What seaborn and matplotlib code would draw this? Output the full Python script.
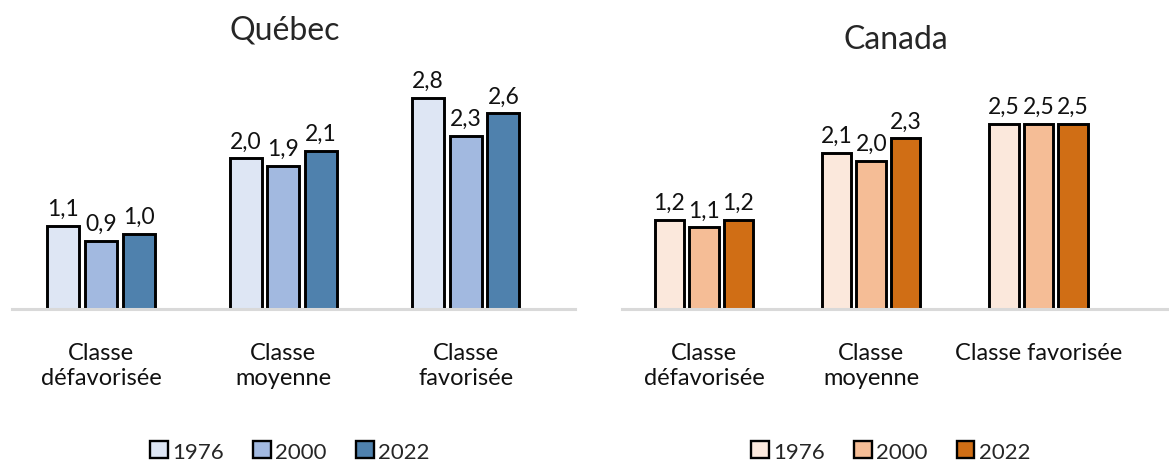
import pandas as pd
import seaborn as sns
import matplotlib
matplotlib.use("Agg")
import matplotlib.pyplot as plt
from matplotlib.patches import Patch

sns.set_theme(style="white")
plt.rcParams["font.family"] = ["Lato", "DejaVu Sans"]

years = ["1976", "2000", "2022"]
cats_qc = ["Classe\ndéfavorisée", "Classe\nmoyenne", "Classe\nfavorisée"]
cats_ca = ["Classe\ndéfavorisée", "Classe\nmoyenne", "Classe favorisée"]
quebec_1976 = [1.1, 2.0, 2.8]
quebec_2000 = [0.9, 1.9, 2.3]
quebec_2022 = [1.0, 2.1, 2.6]
canada_1976 = [1.2, 2.1, 2.5]
canada_2000 = [1.1, 2.0, 2.5]
canada_2022 = [1.2, 2.3, 2.5]

blues = ["#DEE6F4", "#A2B9E0", "#4F81AD"]
oranges = ["#FBE8DC", "#F5BD96", "#D06E15"]


def longForm(cats, series):
    rows = []
    for year, vals in zip(years, series):
        for c, v in zip(cats, vals):
            rows.append({"cat": c, "year": year, "value": v})
    return pd.DataFrame(rows)


def drawPanel(ax, df, cats, palette, xlim, ylim):
    sns.barplot(data=df, x="cat", y="value", hue="year", order=cats,
                hue_order=years, palette=palette, width=0.62, gap=0.15,
                edgecolor="black", linewidth=2.1, saturation=1, ax=ax,
                legend=False)
    for cont in ax.containers:
        ax.bar_label(cont, labels=[f"{b.get_height():.1f}".replace(".", ",") for b in cont],
                     padding=5, fontsize=16.5, color="#111111")
    ax.set_xlim(*xlim)
    ax.set_ylim(*ylim)
    ax.set_xlabel("")
    ax.set_ylabel("")
    ax.set_yticks([])
    for s in ["top", "right", "left"]:
        ax.spines[s].set_visible(False)
    ax.spines["bottom"].set_color("#D9D9D9")
    ax.spines["bottom"].set_linewidth(2.2)
    ax.tick_params(axis="x", length=0, pad=24, labelsize=17, labelcolor="#111111")


def addLegend(palette, x):
    handles = [Patch(facecolor=c, edgecolor="black", linewidth=1.7, label=y)
               for y, c in zip(years, palette)]
    fig.legend(handles=handles, loc="center", bbox_to_anchor=(x, 0.025), ncol=3,
               frameon=False, fontsize=16, handlelength=0.8, handleheight=0.8,
               handletextpad=0.2, columnspacing=1.3, borderaxespad=0)


fig = plt.figure(figsize=(11.69, 4.64), dpi=100)
ax1 = fig.add_axes([0.010, 0.332, 0.482, 0.54])
ax2 = fig.add_axes([0.532, 0.332, 0.468, 0.54])

drawPanel(ax1, longForm(cats_qc, [quebec_1976, quebec_2000, quebec_2022]),
          cats_qc, blues, (-0.49, 2.6), (0, 3.33))
drawPanel(ax2, longForm(cats_ca, [canada_1976, canada_2000, canada_2022]),
          cats_ca, oranges, (-0.49, 2.78), (0, 3.38))

fig.text(0.244, 0.935, "Québec", ha="center", va="center", fontsize=23)
fig.text(0.766, 0.913, "Canada", ha="center", va="center", fontsize=23)

addLegend(blues, 0.248)
addLegend(oranges, 0.762)

fig.savefig("out.png", dpi=100)
